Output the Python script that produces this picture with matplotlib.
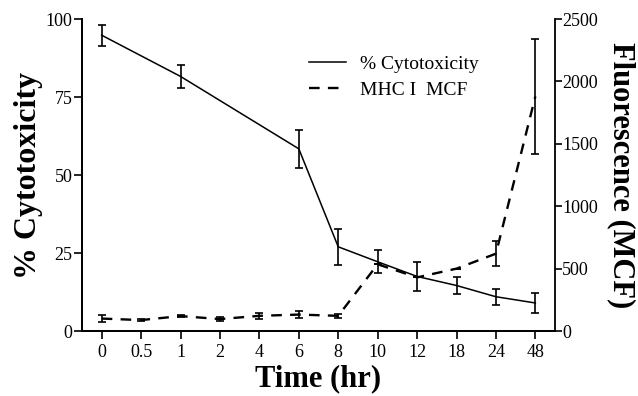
#import library
import matplotlib.pyplot as plt
import numpy as np

plt.rcParams['font.family'] = ['Liberation Serif', 'DejaVu Serif']

#define datasets
time_labels = ["0", "0.5", "1", "2", "4", "6", "8", "10", "12", "18", "24", "48"]

cyto_idx = [0, 2, 5, 6, 7, 8, 9, 10, 11]
cyto_vals = [94.8, 81.6, 58.4, 27.0, 22.2, 17.5, 14.6, 11.0, 9.0]
cyto_err = [3.3, 3.7, 6.0, 5.8, 3.7, 4.7, 2.7, 2.5, 3.2]

mcf_vals = [100, 88, 120, 96, 122, 132, 122, 535, 430, 500, 620, 1880]
mcf_err = [25, 10, 10, 15, 25, 25, 15, 0, 0, 0, 100, 460]

#define x positions
x = np.arange(len(time_labels))

#define fig and plot size
fig, ax = plt.subplots(figsize=(6.38, 3.96), dpi=100)
fig.subplots_adjust(left=0.1285, right=0.87, bottom=0.164, top=0.952)
ax2 = ax.twinx()

#cytotoxicity line
line1 = ax.errorbar(
    x[cyto_idx], cyto_vals, yerr=cyto_err,
    color="black", linewidth=1.1, elinewidth=1.2,
    capsize=3, capthick=1.2,
    label="% Cytotoxicity"
)

#mhc i mcf line
line2 = ax2.errorbar(
    x, mcf_vals, yerr=mcf_err,
    color="black", linewidth=1.7, linestyle=(0, (4.5, 3.5)),
    elinewidth=1.2, capsize=3, capthick=1.2,
    label="MHC I  MCF"
)

#axes limits
ax.set_xlim(-0.5, 11.5)
ax.set_ylim(0, 100)
ax2.set_ylim(0, 2500)

#ticks
ax.set_xticks(x)
ax.set_xticklabels(time_labels)
ax.set_yticks([0, 25, 50, 75, 100])
ax2.set_yticks([0, 500, 1000, 1500, 2000, 2500])
ax.tick_params(axis="both", direction="out", length=6, width=1.2, labelsize=13)
ax.tick_params(axis="y", pad=1)
ax2.tick_params(axis="y", direction="out", length=5, width=1.2, labelsize=13, pad=0)

#spines
for a in (ax, ax2):
    a.spines["top"].set_visible(False)
    for s in ("left", "right", "bottom"):
        a.spines[s].set_linewidth(1.3)
ax.spines["right"].set_visible(False)

#define title and label
ax.set_xlabel("Time (hr)", fontsize=22, fontweight="bold", labelpad=2)
ax.set_ylabel("% Cytotoxicity", fontsize=23, fontweight="bold", labelpad=2)
ax2.set_ylabel("Fluorescence (MCF)", fontsize=22, fontweight="bold",
               rotation=-90, labelpad=27)

#define legend
fig.legend(
    handles=[line1.lines[0], line2.lines[0]],
    labels=["% Cytotoxicity", "MHC I  MCF"],
    loc="upper left", bbox_to_anchor=(0.457, 0.905),
    frameon=False, fontsize=14, handlelength=1.9,
    handletextpad=0.7, labelspacing=0.45
)

#save
plt.savefig("out.png", dpi=100)
